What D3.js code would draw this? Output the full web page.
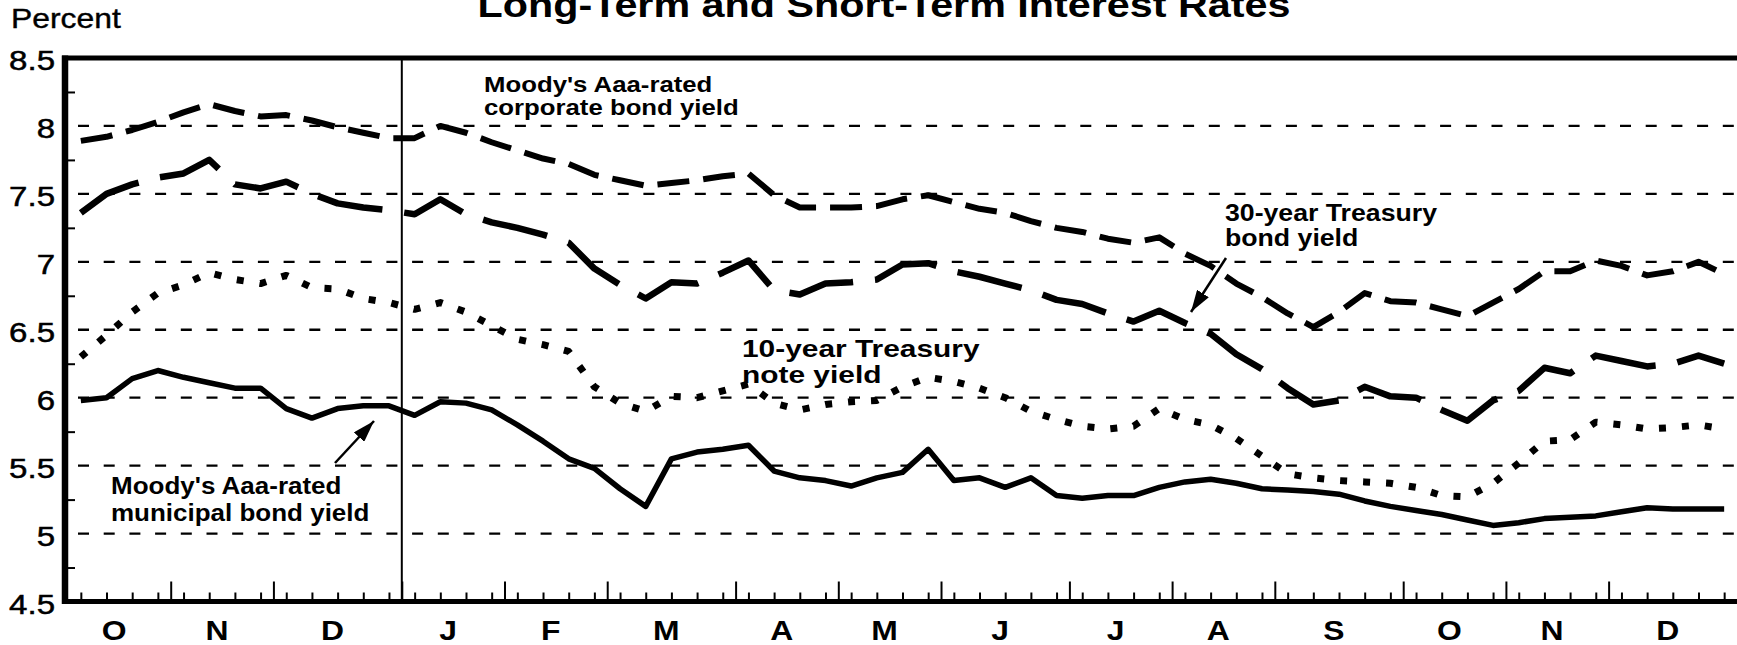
<!DOCTYPE html>
<html>
<head>
<meta charset="utf-8">
<script src="https://cdn.jsdelivr.net/npm/d3@7/dist/d3.min.js"></script>
<style>
  html, body { margin: 0; padding: 0; background: #fff; }
  svg { display: block; font-family: "Liberation Sans", Arial, Helvetica, sans-serif; }
</style>
</head>
<body>
<svg id="chart" width="1737" height="645"></svg>
<script>
// weekly observations, Oct 1992 - Dec 1993
const months = ['O', 'N', 'D', 'J', 'F', 'M', 'A', 'M', 'J', 'J', 'A', 'S', 'O', 'N', 'D'];
const weeksPerMonth = [4, 4, 5, 4, 4, 5, 4, 4, 5, 4, 4, 5, 4, 4, 5];
const yTicks = [4.5, 5, 5.5, 6, 6.5, 7, 7.5, 8, 8.5];
const gridValues = [5, 5.5, 6, 6.5, 7, 7.5, 8];
const minorTicks = [4.75, 5.25, 5.75, 6.25, 6.75, 7.25, 7.75, 8.25];

const corporate = [
  7.89, 7.92, 7.97, 8.03, 8.10, 8.16, 8.11, 8.07, 8.08, 8.04, 7.99, 7.95, 7.91,
  7.91, 8.00, 7.95, 7.88, 7.82, 7.76, 7.72, 7.64, 7.60, 7.56, 7.58, 7.60, 7.63,
  7.65, 7.49, 7.40, 7.40, 7.40, 7.41, 7.46, 7.49, 7.44, 7.39, 7.36, 7.30, 7.25,
  7.22, 7.17, 7.14, 7.18, 7.06, 6.97, 6.84, 6.74, 6.62, 6.52, 6.63, 6.77, 6.71,
  6.70, 6.65, 6.60, 6.70, 6.80, 6.93, 6.93, 7.01, 6.97, 6.90, 6.93, 7.00, 6.91
];
const treasury30 = [
  7.36, 7.50, 7.57, 7.62, 7.65, 7.75, 7.57, 7.54, 7.59, 7.50, 7.43, 7.40, 7.38,
  7.35, 7.46, 7.35, 7.29, 7.25, 7.20, 7.14, 6.95, 6.83, 6.73, 6.85, 6.84, 6.92,
  7.01, 6.79, 6.76, 6.84, 6.85, 6.87, 6.98, 6.99, 6.93, 6.89, 6.84, 6.79, 6.72,
  6.69, 6.62, 6.56, 6.64, 6.55, 6.47, 6.32, 6.21, 6.07, 5.95, 5.98, 6.08, 6.01,
  6.00, 5.91, 5.83, 5.98, 6.05, 6.22, 6.18, 6.31, 6.27, 6.23, 6.25, 6.31, 6.25
];
const treasury10 = [
  6.30, 6.46, 6.63, 6.77, 6.83, 6.92, 6.87, 6.84, 6.90, 6.81, 6.80, 6.73, 6.70,
  6.65, 6.70, 6.63, 6.53, 6.43, 6.39, 6.34, 6.08, 5.96, 5.90, 6.01, 6.00, 6.05,
  6.10, 5.96, 5.91, 5.95, 5.97, 5.98, 6.08, 6.15, 6.12, 6.07, 6.00, 5.90, 5.84,
  5.79, 5.77, 5.79, 5.92, 5.84, 5.80, 5.70, 5.57, 5.44, 5.41, 5.39, 5.38, 5.37,
  5.34, 5.28, 5.27, 5.37, 5.52, 5.68, 5.69, 5.82, 5.80, 5.77, 5.78, 5.80, 5.77
];
const municipal = [
  5.98, 6.00, 6.14, 6.20, 6.15, 6.11, 6.07, 6.07, 5.92, 5.85, 5.92, 5.94, 5.94,
  5.87, 5.97, 5.96, 5.91, 5.80, 5.68, 5.55, 5.48, 5.33, 5.20, 5.55, 5.60, 5.62,
  5.65, 5.46, 5.41, 5.39, 5.35, 5.41, 5.45, 5.62, 5.39, 5.41, 5.34, 5.41, 5.28,
  5.26, 5.28, 5.28, 5.34, 5.38, 5.40, 5.37, 5.33, 5.32, 5.31, 5.29, 5.24, 5.20,
  5.17, 5.14, 5.10, 5.06, 5.08, 5.11, 5.12, 5.13, 5.16, 5.19, 5.18, 5.18, 5.18
];

(function () {
  const svg = d3.select('#chart');
  const W = 1737;
  const top = 58, bottom = 601.5, left = 68;
  const sx = 1.18; // the scan is stretched sideways, so text is too

  const nWeeks = d3.sum(weeksPerMonth);
  const x = d3.scaleLinear().domain([-0.5, nWeeks - 0.5]).range([left, W]);
  const y = d3.scaleLinear().domain([4.5, 8.5]).range([bottom, top]);

  function addText(g, px, py, str, size, weight, anchor, stretch) {
    return g.append('text')
      .attr('transform', `translate(${px},${py}) scale(${stretch || sx},1)`)
      .attr('font-size', size)
      .attr('font-weight', weight || 'normal')
      .attr('text-anchor', anchor || 'start')
      .attr('fill', '#000')
      .text(str);
  }

  // title, cut off at the top edge like the scan
  addText(svg, 884, 17, 'Long-Term and Short-Term Interest Rates', 35, 'bold', 'middle');
  addText(svg, 11, 28, 'Percent', 27).attr('stroke', '#000').attr('stroke-width', 0.4);

  // dashed grid
  svg.append('g')
    .selectAll('line')
    .data(gridValues)
    .join('line')
    .attr('x1', left + 10)
    .attr('x2', W)
    .attr('y1', d => y(d))
    .attr('y2', d => y(d))
    .attr('stroke', '#000')
    .attr('stroke-width', 2.3)
    .attr('stroke-dasharray', '11,14.7');

  // month boundaries and the year break
  let cum = 0;
  const bounds = [];
  const centers = [];
  weeksPerMonth.forEach(n => {
    centers.push(cum + (n - 1) / 2 - 0.22);
    cum += n;
    bounds.push(cum - 0.5);
  });
  const monthBounds = bounds.slice(0, -1);
  const yearBreak = d3.sum(weeksPerMonth.slice(0, 3)) - 0.5;

  svg.append('line')
    .attr('x1', x(yearBreak)).attr('x2', x(yearBreak))
    .attr('y1', top).attr('y2', bottom)
    .attr('stroke', '#000').attr('stroke-width', 2);

  // weekly ticks
  svg.append('g')
    .attr('transform', `translate(0,${bottom})`)
    .call(d3.axisBottom(x).tickValues(d3.range(nWeeks)).tickSize(-9).tickFormat(''))
    .call(g => g.select('.domain').remove())
    .call(g => g.selectAll('line').attr('stroke-width', 2));

  // month ticks
  svg.append('g')
    .attr('transform', `translate(0,${bottom})`)
    .call(d3.axisBottom(x).tickValues(monthBounds).tickSize(-20).tickFormat(''))
    .call(g => g.select('.domain').remove())
    .call(g => g.selectAll('line').attr('stroke-width', 2));

  // month labels
  svg.append('g')
    .attr('transform', `translate(0,${bottom})`)
    .call(d3.axisBottom(x).tickValues(centers).tickSize(0).tickPadding(19)
      .tickFormat((d, i) => months[i]))
    .call(g => g.select('.domain').remove())
    .call(g => g.selectAll('text')
      .attr('font-size', 27)
      .attr('font-weight', 'bold')
      .attr('font-family', '"Liberation Sans", Arial, sans-serif')
      .attr('fill', '#000')
      .attr('transform', `scale(${sx},1)`));

  // y labels
  svg.append('g')
    .attr('transform', `translate(${left},0)`)
    .call(d3.axisLeft(y).tickValues(yTicks).tickSize(0).tickPadding(11)
      .tickFormat(d => String(d)))
    .call(g => g.select('.domain').remove())
    .call(g => g.selectAll('text')
      .attr('font-size', 28)
      .attr('dy', '0.42em')
      .attr('font-family', '"Liberation Sans", Arial, sans-serif')
      .attr('fill', '#000')
      .attr('stroke', '#000')
      .attr('stroke-width', 0.5)
      .attr('transform', `scale(${sx},1)`));

  // small inward ticks on the left axis
  svg.append('g')
    .attr('transform', `translate(${left},0)`)
    .call(d3.axisRight(y).tickValues(minorTicks).tickSize(7).tickFormat(''))
    .call(g => g.select('.domain').remove())
    .call(g => g.selectAll('line').attr('stroke-width', 2));

  // series
  const line = d3.line().x((d, i) => x(i)).y(d => y(d));
  const series = [
    { data: corporate, width: 6, dash: '32,14' },
    { data: treasury30, width: 6.5, dash: '66,22' },
    { data: treasury10, width: 7, dash: '7,16' },
    { data: municipal, width: 5.5, dash: null }
  ];
  svg.append('g')
    .selectAll('path')
    .data(series)
    .join('path')
    .attr('d', d => line(d.data))
    .attr('fill', 'none')
    .attr('stroke', '#000')
    .attr('stroke-width', d => d.width)
    .attr('stroke-linejoin', 'round')
    .attr('stroke-dasharray', d => d.dash);

  // frame: top, left and bottom
  const frame = svg.append('g').attr('stroke', '#000');
  frame.append('line').attr('x1', left - 6).attr('x2', W).attr('y1', top).attr('y2', top).attr('stroke-width', 5);
  frame.append('line').attr('x1', left - 3).attr('x2', left - 3).attr('y1', top - 2.5).attr('y2', bottom + 2.5).attr('stroke-width', 6.5);
  frame.append('line').attr('x1', left - 6).attr('x2', W).attr('y1', bottom).attr('y2', bottom).attr('stroke-width', 5);

  // annotations
  const notes = svg.append('g');
  addText(notes, 484, 92, "Moody's Aaa-rated", 23, 'bold', 'start', 1.12);
  addText(notes, 484, 115, 'corporate bond yield', 23, 'bold', 'start', 1.12);
  addText(notes, 742, 357, '10-year Treasury', 23, 'bold', 'start', 1.3);
  addText(notes, 742, 383, 'note yield', 23, 'bold', 'start', 1.3);
  addText(notes, 1225, 221, '30-year Treasury', 23, 'bold', 'start', 1.16);
  addText(notes, 1225, 246, 'bond yield', 23, 'bold', 'start', 1.16);
  addText(notes, 111, 494, "Moody's Aaa-rated", 23, 'bold', 'start', 1.13);
  addText(notes, 111, 521, 'municipal bond yield', 23, 'bold', 'start', 1.13);

  svg.append('defs').append('marker')
    .attr('id', 'head')
    .attr('viewBox', '0 -7 22 14')
    .attr('refX', 22)
    .attr('refY', 0)
    .attr('markerUnits', 'userSpaceOnUse')
    .attr('markerWidth', 22)
    .attr('markerHeight', 14)
    .attr('orient', 'auto')
    .append('path')
    .attr('d', 'M0,-7 L22,0 L0,7 Z')
    .attr('fill', '#000');

  const arrows = [
    [1226, 258, 1191, 312],
    [335, 463, 374, 421]
  ];
  notes.selectAll('line.arrow')
    .data(arrows)
    .join('line')
    .attr('class', 'arrow')
    .attr('x1', d => d[0]).attr('y1', d => d[1])
    .attr('x2', d => d[2]).attr('y2', d => d[3])
    .attr('stroke', '#000')
    .attr('stroke-width', 2.5)
    .attr('marker-end', 'url(#head)');
})();
</script>
</body>
</html>
